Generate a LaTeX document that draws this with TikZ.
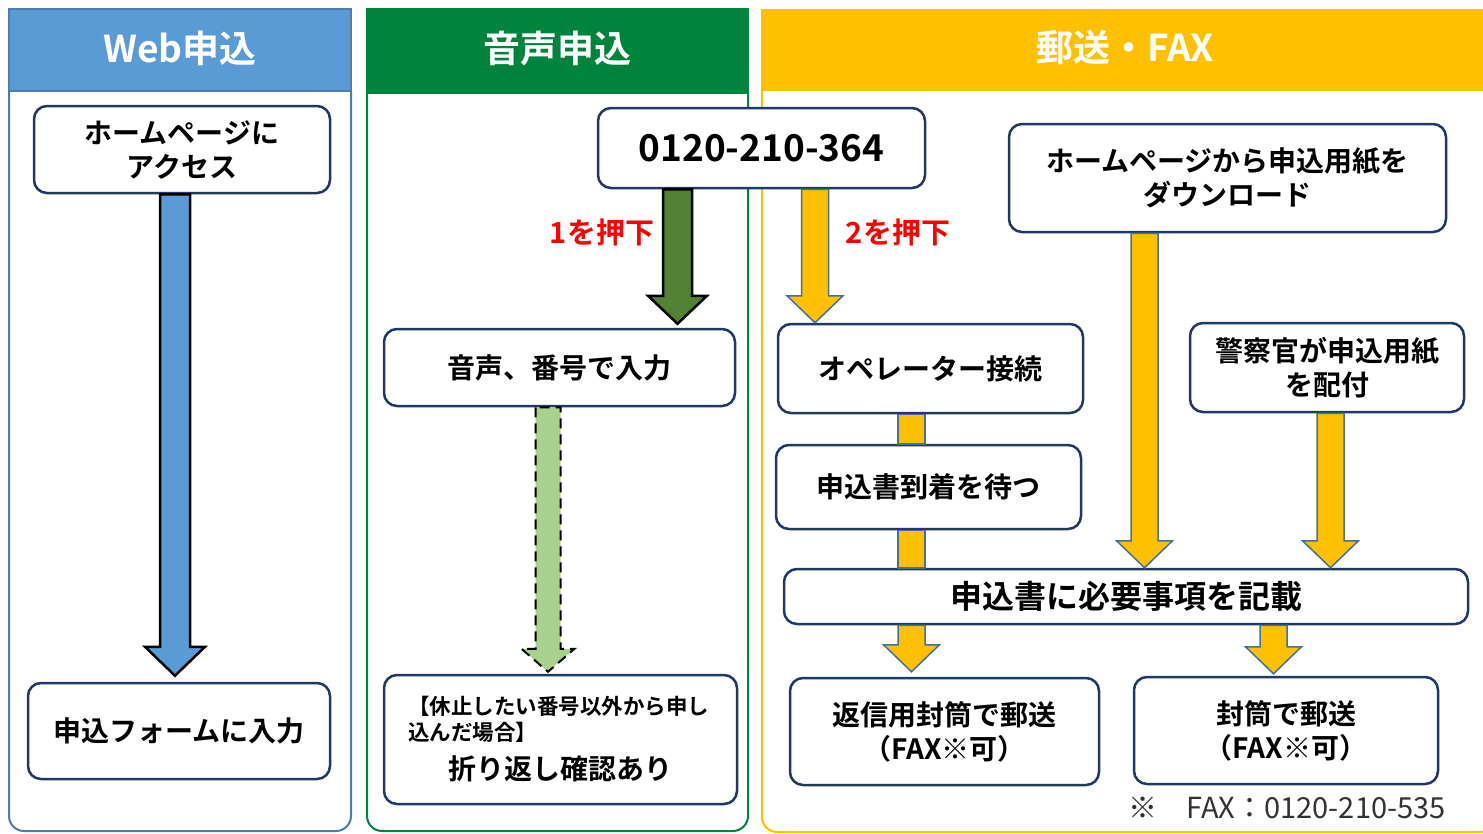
\documentclass[tikz,border=0pt]{standalone}
\usepackage{fontspec}
\setmainfont{Noto Sans CJK JP}[BoldFont={* Bold}]
\usetikzlibrary{calc}
\definecolor{webblue}{HTML}{5B9BD5}
\definecolor{webline}{HTML}{4F7CAC}
\definecolor{voicegreen}{HTML}{00843D}
\definecolor{telgreen}{HTML}{548235}
\definecolor{backgreen}{HTML}{A9D18E}
\definecolor{mailyellow}{HTML}{FFC000}
\definecolor{boxline}{HTML}{1F3864}
\definecolor{arrowline}{HTML}{41719C}
\tikzset{
  box/.style={draw=boxline, line width=2.5pt, rounded corners=13pt, fill=white,
    align=center, inner sep=0pt, font=\bfseries\fontsize{28}{34}\selectfont},
  header/.style={text=white, font=\bfseries\fontsize{37}{44}\selectfont},
  push/.style={text=red, font=\bfseries\fontsize{29}{34}\selectfont},
  blk shaft/.store in=\shafthalf,
  blk head/.store in=\headhalf,
  blk len/.store in=\headlen,
  blockarrow/.style={line width=2pt, line join=miter},
  webarrow/.style={blockarrow, fill=webblue, draw=black, line width=2.5pt, blk shaft=15pt, blk head=30pt, blk len=29pt},
  telarrow/.style={blockarrow, fill=telgreen, draw=black, line width=2.5pt, blk shaft=14.5pt, blk head=29.5pt, blk len=28pt},
  backarrow/.style={blockarrow, fill=backgreen, draw=black, dash pattern=on 10pt off 6pt, blk shaft=12.5pt, blk head=26.5pt, blk len=23pt},
  mailarrow/.style={blockarrow, fill=mailyellow, draw=arrowline, line width=1.5pt, blk shaft=13.5pt, blk head=28pt, blk len=27pt}
}
\newcommand{\blockarrow}[3][]{%
  \draw[#1] let \p1=(#2), \p2=(#3) in
    (\x1-\shafthalf,\y1) -- (\x1-\shafthalf,\y2+\headlen) -- (\x1-\headhalf,\y2+\headlen)
    -- (\x1,\y2) -- (\x1+\headhalf,\y2+\headlen) -- (\x1+\shafthalf,\y2+\headlen)
    -- (\x1+\shafthalf,\y1) -- cycle;}
\newcommand{\blockbar}[3][]{%
  \draw[#1] let \p1=(#2), \p2=(#3) in
    (\x1-\shafthalf,\y1) rectangle (\x1+\shafthalf,\y2);}

\begin{document}
\begin{tikzpicture}[x=1pt, y=-1pt]
  \useasboundingbox (0,0) rectangle (1483,833);

  \draw[webline, line width=2pt, rounded corners=15pt] (9,91) -- (9,831) -- (351,831) -- (351,91);
  \draw[webline, line width=2pt, fill=webblue] (9,9) rectangle (351,91);
  \draw[voicegreen, line width=2pt, rounded corners=15pt] (367,93) -- (367,831) -- (748,831) -- (748,93);
  \draw[voicegreen, line width=2pt, fill=voicegreen] (367,9) rectangle (748,93);
  \draw[mailyellow, line width=2pt, rounded corners=15pt] (762,91) -- (762,832) -- (1495,832) -- (1495,91);
  \fill[mailyellow] (761,9) rectangle (1495,91);

  \node[header] (webhead) at (180,48) {Web申込};
  \node[header] (voicehead) at (557,49) {音声申込};
  \node[header] (mailhead) at (1125,47) {郵送・FAX};

  \node[box, minimum width=296pt, minimum height=87pt] (webhome) at (182,149.5) {ホームページに\\アクセス};
  \node[box, minimum width=302pt, minimum height=96pt] (webform) at (179,731) {申込フォームに入力};

  \node[box, minimum width=327pt, minimum height=80pt, font=\bfseries\fontsize{37}{44}\selectfont] (tel) at (761.5,148) {0120-210-364};
  \node[box, minimum width=351pt, minimum height=77pt] (voiceinput) at (559.5,367.5) {音声、番号で入力};
  \node[box, minimum width=353pt, minimum height=129pt, text width=305pt, align=left] (callback) at (560.5,739.5)
    {{\fontsize{21.5}{26}\selectfont 【休止したい番号以外から申し\\込んだ場合】\par}\vskip 5pt
     {\centering 折り返し確認あり\par}};

  \node[box, minimum width=305pt, minimum height=89pt] (operator) at (930.5,368.5) {オペレーター接続};
  \node[box, minimum width=305pt, minimum height=84pt] (wait) at (928.5,487) {申込書到着を待つ};
  \node[box, minimum width=437pt, minimum height=108pt] (download) at (1227.5,178) {ホームページから申込用紙を\\ダウンロード};
  \node[box, minimum width=274pt, minimum height=89pt] (police) at (1327,367.5) {警察官が申込用紙\\を配付};
  \node[box, minimum width=684pt, minimum height=55pt, font=\bfseries\fontsize{32}{36}\selectfont] (entry) at (1126,596.5) {申込書に必要事項を記載};
  \node[box, minimum width=309pt, minimum height=107pt] (reply) at (944.5,731.5) {返信用封筒で郵送\\（FAX※可）};
  \node[box, minimum width=304pt, minimum height=107pt] (envelope) at (1286,730.5) {封筒で郵送\\（FAX※可）};

  \node[push] (push1) at (602,232) {1を押下};
  \node[push] (push2) at (898,232) {2を押下};
  \node[text=black!80, font=\fontsize{29}{32}\selectfont] (faxnote) at (1287,808) {※　FAX：0120-210-535};

  \coordinate (webcol) at (175,0);
  \coordinate (telcol) at (677.5,0);
  \coordinate (backcol) at (548,0);
  \coordinate (opcol) at (815,0);
  \coordinate (waitcol) at (911.5,0);
  \coordinate (dlcol) at (1144.5,0);
  \coordinate (policecol) at (1330.5,0);
  \coordinate (envcol) at (1273.5,0);

  \blockarrow[webarrow]{webhome.south -| webcol}{$(webform.north -| webcol)+(0,-6)$}
  \blockarrow[telarrow]{tel.south -| telcol}{$(voiceinput.north -| telcol)+(0,-4)$}
  \blockarrow[backarrow]{voiceinput.south -| backcol}{$(callback.north -| backcol)+(0,-2)$}
  \blockarrow[mailarrow]{tel.south -| opcol}{operator.north -| opcol}
  \blockbar[mailarrow]{operator.south -| waitcol}{wait.north -| waitcol}
  \blockbar[mailarrow]{wait.south -| waitcol}{entry.north -| waitcol}
  \blockarrow[mailarrow]{download.south -| dlcol}{entry.north -| dlcol}
  \blockarrow[mailarrow]{police.south -| policecol}{entry.north -| policecol}
  \blockarrow[mailarrow]{entry.south -| waitcol}{$(reply.north -| waitcol)+(0,-5)$}
  \blockarrow[mailarrow]{entry.south -| envcol}{$(envelope.north -| envcol)+(0,-2)$}
\end{tikzpicture}
\end{document}
